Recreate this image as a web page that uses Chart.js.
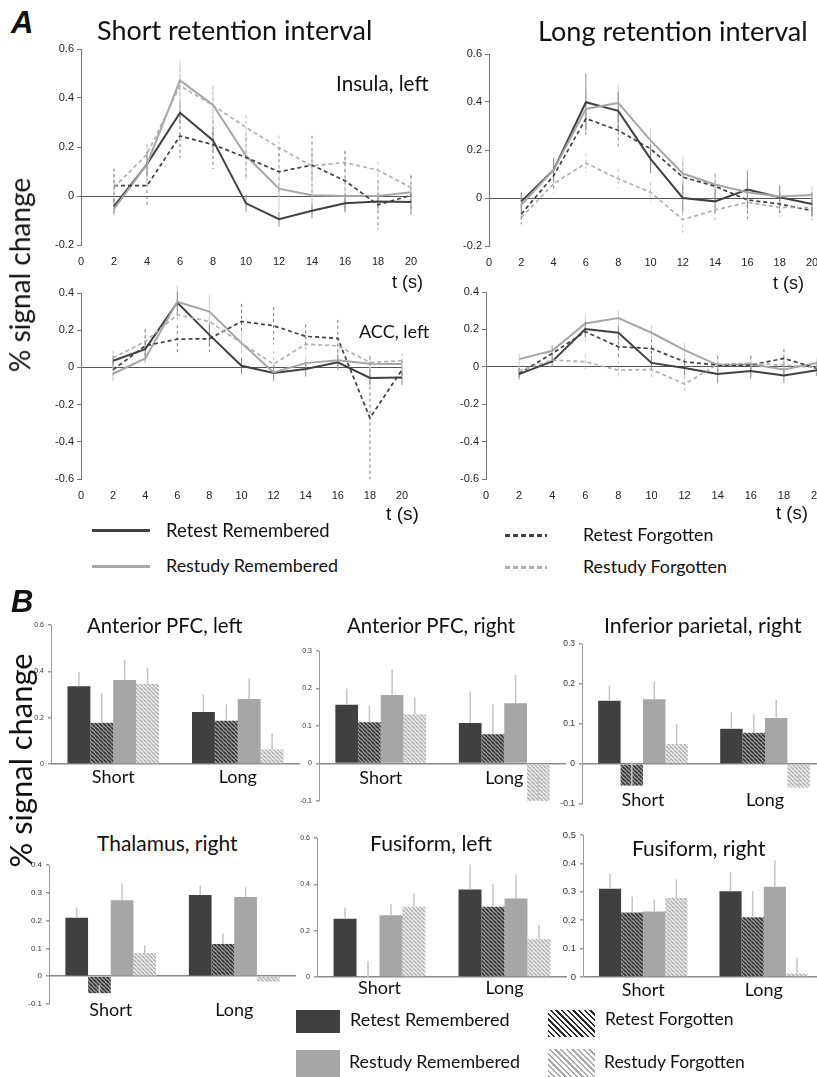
<!DOCTYPE html>
<html><head><meta charset="utf-8">
<script src="https://cdn.jsdelivr.net/npm/chart.js@4.4.1/dist/chart.umd.min.js"></script>
<style>
html,body{margin:0;padding:0;background:#fff;overflow:hidden;}
#root{position:relative;width:817px;height:1077px;overflow:hidden;background:#fff;}
.t{position:absolute;white-space:nowrap;line-height:1;color:#111;}
canvas{position:absolute;}
.sw{position:absolute;}
</style></head><body><div id="root"></div>
<script>
// ---------------- DATA ----------------
const timePoints = [2,4,6,8,10,12,14,16,18,20];
const seriesNames = ['Retest Remembered','Restudy Remembered','Retest Forgotten','Restudy Forgotten'];

// Insula, left — short retention interval
const insulaShortRetestRem   = [-0.042,0.13,0.34,0.227,-0.03,-0.095,-0.06,-0.03,-0.022,-0.024];
const insulaShortRestudyRem  = [-0.053,0.13,0.472,0.372,0.164,0.03,0.003,0.0,0.0,0.015];
const insulaShortRetestForg  = [0.042,0.042,0.245,0.21,0.157,0.099,0.126,0.062,-0.036,0.003];
const insulaShortRestudyForg = [0.035,0.17,0.45,0.37,0.28,0.197,0.123,0.137,0.105,0.035];
const insulaShortErrRR = [0.03,0.05,0.045,0.05,0.035,0.03,0.03,0.035,0.03,0.04];
const insulaShortErrSR = [0.03,0.08,0.08,0.075,0.1,0.09,0.08,0.07,0.06,0.05];
const insulaShortErrRF = [0.07,0.08,0.09,0.1,0.08,0.1,0.12,0.12,0.1,0.08];
const insulaShortErrSF = [0.06,0.04,0.07,0.08,0.05,0.05,0.06,0.05,0.035,0.05];

// Insula, left — long retention interval
const insulaLongRetestRem   = [-0.014,0.117,0.399,0.363,0.163,0.0,-0.014,0.035,0.003,-0.025];
const insulaLongRestudyRem  = [-0.028,0.117,0.371,0.396,0.24,0.102,0.056,0.024,0.006,0.013];
const insulaLongRetestForg  = [-0.067,0.093,0.331,0.282,0.205,0.087,0.049,-0.008,-0.025,-0.053];
const insulaLongRestudyForg = [-0.081,0.059,0.145,0.08,0.024,-0.09,-0.05,-0.018,-0.039,-0.04];
const insulaLongErrRR = [0.04,0.05,0.12,0.08,0.06,0.06,0.05,0.08,0.05,0.05];
const insulaLongErrSR = [0.05,0.05,0.08,0.08,0.05,0.07,0.05,0.04,0.04,0.035];
const insulaLongErrRF = [0.04,0.06,0.07,0.07,0.06,0.06,0.05,0.08,0.05,0.04];
const insulaLongErrSF = [0.03,0.04,0.04,0.04,0.04,0.055,0.045,0.05,0.04,0.04];

// ACC, left — short retention interval
const accShortRetestRem   = [0.036,0.098,0.349,0.175,0.009,-0.03,-0.009,0.027,-0.057,-0.054];
const accShortRestudyRem  = [-0.034,0.048,0.353,0.30,0.131,-0.027,0.023,0.038,0.02,0.018];
const accShortRetestForg  = [-0.013,0.116,0.152,0.154,0.247,0.224,0.167,0.156,-0.272,-0.013];
const accShortRestudyForg = [0.05,0.14,0.283,0.247,0.13,0.018,0.125,0.116,0.027,0.036];
const accShortErrRR = [0.03,0.04,0.06,0.06,0.045,0.04,0.04,0.04,0.04,0.04];
const accShortErrSR = [0.04,0.03,0.09,0.09,0.06,0.05,0.04,0.04,0.03,0.03];
const accShortErrRF = [0.05,0.09,0.075,0.07,0.095,0.1,0.065,0.1,0.33,0.05];
const accShortErrSF = [0.04,0.06,0.05,0.06,0.05,0.07,0.05,0.05,0.04,0.04];

// ACC, left — long retention interval
const accLongRetestRem   = [-0.039,0.029,0.202,0.182,0.021,-0.007,-0.039,-0.023,-0.046,-0.018];
const accLongRestudyRem  = [0.041,0.086,0.232,0.261,0.182,0.089,0.009,0.014,-0.014,0.021];
const accLongRetestForg  = [-0.036,0.071,0.188,0.107,0.098,0.027,0.009,0.009,0.045,-0.009];
const accLongRestudyForg = [-0.021,0.036,0.027,-0.018,-0.014,-0.093,0.014,0.018,0.009,-0.004];
const accLongErrRR = [0.03,0.03,0.04,0.04,0.04,0.04,0.05,0.04,0.04,0.03];
const accLongErrSR = [0.03,0.03,0.045,0.04,0.04,0.04,0.04,0.03,0.03,0.03];
const accLongErrRF = [0.03,0.04,0.05,0.06,0.05,0.05,0.05,0.05,0.05,0.04];
const accLongErrSF = [0.03,0.03,0.04,0.05,0.04,0.045,0.04,0.04,0.04,0.03];

// Bar charts: rows = Retest Remembered, Retest Forgotten, Restudy Remembered, Restudy Forgotten; cols = Short, Long
const barGroups = ['Short','Long'];
const barSeries = ['Retest Remembered','Retest Forgotten','Restudy Remembered','Restudy Forgotten'];
const antPfcLeft     = [[0.336,0.224],[0.178,0.187],[0.363,0.281],[0.346,0.063]];
const antPfcLeftErr  = [[0.06,0.076],[0.129,0.07],[0.088,0.089],[0.069,0.068]];
const antPfcRight    = [[0.157,0.108],[0.110,0.078],[0.183,0.161],[0.131,-0.10]];
const antPfcRightErr = [[0.043,0.085],[0.044,0.08],[0.067,0.075],[0.045,0.064]];
const infParRight    = [[0.158,0.088],[-0.054,0.078],[0.162,0.115],[0.05,-0.059]];
const infParRightErr = [[0.038,0.041],[0.06,0.046],[0.044,0.045],[0.05,0.03]];
const thalRight      = [[0.21,0.292],[-0.061,0.116],[0.273,0.285],[0.083,-0.019]];
const thalRightErr   = [[0.038,0.035],[0.03,0.038],[0.061,0.035],[0.028,0.015]];
const fusLeft        = [[0.251,0.378],[0.0,0.303],[0.267,0.339],[0.303,0.164]];
const fusLeftErr     = [[0.049,0.108],[0.069,0.097],[0.047,0.102],[0.059,0.062]];
const fusRight       = [[0.311,0.302],[0.227,0.21],[0.231,0.318],[0.278,0.012]];
const fusRightErr    = [[0.054,0.068],[0.056,0.092],[0.042,0.092],[0.066,0.057]];

// ---------------- STYLE ----------------
const DARK = '#404040', LIGHT = '#a6a6a6';
const root = document.getElementById('root');

function txt(s, o) {
  const d = document.createElement('div');
  d.className = 't'; d.textContent = s;
  d.style.fontFamily = o.family || 'Lato, "Open Sans", sans-serif';
  d.style.fontSize = o.size + 'px';
  if (o.weight) d.style.fontWeight = o.weight;
  if (o.style) d.style.fontStyle = o.style;
  d.style.color = o.color || '#111';
  d.style.left = '0px'; d.style.top = '0px';
  root.appendChild(d);
  if (o.width) {
    const w = d.offsetWidth;
    d.style.fontSize = (o.size * o.width / w) + 'px';
  }
  const w = d.offsetWidth, h = d.offsetHeight;
  if (o.rotate) {
    d.style.left = (o.xc - w / 2) + 'px';
    d.style.top = (o.yc - h / 2) + 'px';
    d.style.transform = 'rotate(-90deg)';
  } else {
    d.style.left = o.x + 'px';
    d.style.top = (o.yc - h / 2) + 'px';
  }
  return d;
}
function box(x, y, w, h, bg) {
  const d = document.createElement('div');
  d.className = 'sw';
  Object.assign(d.style, {left: x + 'px', top: y + 'px', width: w + 'px', height: h + 'px', background: bg});
  root.appendChild(d);
  return d;
}
function fmt(v) { const r = Math.round(v * 10) / 10; return r === 0 ? '0' : r.toFixed(1); }

const errPlugin = {
  id: 'errbars',
  beforeDatasetsDraw(chart) {
    const ctx = chart.ctx, ys = chart.scales.y;
    chart.data.datasets.forEach((ds, i) => {
      const meta = chart.getDatasetMeta(i);
      ctx.save();
      ctx.strokeStyle = ds.errColor; ctx.lineWidth = ds.errWidth || 1;
      ctx.setLineDash(ds.errDash || []);
      meta.data.forEach((el, j) => {
        const v = ds.vals[j], e = ds.errs[j];
        ctx.beginPath();
        if (ds.oneSided) {
          ctx.moveTo(el.x, ys.getPixelForValue(v));
          ctx.lineTo(el.x, ys.getPixelForValue(v + e));
        } else {
          ctx.moveTo(el.x, ys.getPixelForValue(v + e));
          ctx.lineTo(el.x, ys.getPixelForValue(v - e));
        }
        ctx.stroke();
      });
      ctx.restore();
    });
  }
};
const errAfterPlugin = {
  id: 'errbarsAfter',
  afterDatasetsDraw(chart) {
    if (!chart.config.options.errAfter) return;
    errPlugin.beforeDatasetsDraw(chart);
  }
};

function makeCanvas(left, top, w, h) {
  const c = document.createElement('canvas');
  c.width = w; c.height = h;
  c.style.left = left + 'px'; c.style.top = top + 'px';
  c.style.width = w + 'px'; c.style.height = h + 'px';
  root.appendChild(c);
  return c;
}

const lineColors = [DARK, LIGHT, DARK, '#b0b0b0'];
const errColors = ['#8c8c8c', '#d0d0d0', '#7a7a7a', '#c0c0c0'];

function lineChart(rect, yMin, yMax, series, errors) {
  const padL = 45, padT = 12, padR = 22, xH = 28;
  const w = Math.round(rect.r - rect.l + padL + padR), h = Math.round(rect.b - rect.t + padT + xH);
  const c = makeCanvas(rect.l - padL, rect.t - padT, w, h);
  new Chart(c, {
    type: 'line',
    data: {
      datasets: series.map((s, i) => ({
        label: seriesNames[i],
        data: timePoints.map((t, j) => ({x: t, y: s[j]})),
        vals: s, errs: errors[i],
        borderColor: lineColors[i], borderWidth: i < 2 ? 2 : 1.7,
        borderDash: i < 2 ? [] : [4, 3],
        errColor: errColors[i], errDash: i < 2 ? [] : [3, 3], errWidth: 1,
        pointRadius: 0, fill: false, tension: 0
      })).reverse()
    },
    options: {
      responsive: false, animation: false, devicePixelRatio: 1,
      layout: {padding: {left: 0, top: padT, right: padR, bottom: 0}},
      plugins: {legend: {display: false}, tooltip: {enabled: false}},
      scales: {
        x: {
          type: 'linear', min: 0, max: 20,
          ticks: {stepSize: 2, padding: 10, autoSkip: false, maxRotation: 0, color: '#222',
                  font: {family: 'Liberation Sans', size: 11}},
          grid: {display: false, drawTicks: false}, border: {display: false},
          afterFit(s) { s.height = xH; s.paddingLeft = 0; s.paddingRight = 0; }
        },
        y: {
          min: yMin, max: yMax,
          ticks: {stepSize: 0.2, padding: 3, color: '#222', font: {family: 'Liberation Sans', size: 11},
                  callback: v => fmt(v)},
          grid: {color: ctx => Math.abs(ctx.tick.value) < 1e-9 ? '#555' : 'rgba(0,0,0,0)',
                 tickColor: '#777', tickLength: 4, lineWidth: 1},
          border: {display: true, color: '#777'},
          afterFit(s) { s.width = padL; s.paddingTop = 0; s.paddingBottom = 0; }
        }
      }
    },
    plugins: [errPlugin]
  });
}

function hatch(fg, bg, size, lw) {
  const c = document.createElement('canvas');
  c.width = c.height = size;
  const x = c.getContext('2d');
  x.fillStyle = bg; x.fillRect(0, 0, size, size);
  x.strokeStyle = fg; x.lineWidth = lw;
  for (let k = -1; k <= 1; k++) {
    x.beginPath(); x.moveTo(k * size, 0); x.lineTo(k * size + size, size); x.stroke();
  }
  return x.createPattern(c, 'repeat');
}
const rfPattern = hatch('#333333', '#a8a8a8', 4, 1.6);
const sfPattern = hatch('#b4b4b4', '#f4f4f4', 4, 1.6);
const barFills = [DARK, rfPattern, LIGHT, sfPattern];

const catLabelPlugin = {
  id: 'catLabels',
  afterDraw(chart) {
    const o = chart.config.options.catLabel;
    const ctx = chart.ctx, xs = chart.scales.x, ys = chart.scales.y;
    ctx.save();
    ctx.font = o.size + 'px Lato';
    ctx.fillStyle = '#111'; ctx.textAlign = 'center'; ctx.textBaseline = 'middle';
    barGroups.forEach((g, i) => {
      ctx.fillText(g, xs.getPixelForValue(i), ys.getPixelForValue(0) + o.offset);
    });
    ctx.restore();
  }
};

function barChart(rect, yMin, yMax, step, tickSize, vals, errs, labOffset) {
  const padL = 32, padT = 10, padR = 6, xH = 26;
  const w = Math.round(rect.r - rect.l + padL + padR), h = Math.round(rect.b - rect.t + padT + xH);
  const c = makeCanvas(rect.l - padL, rect.t - padT, w, h);
  new Chart(c, {
    type: 'bar',
    data: {
      labels: barGroups,
      datasets: vals.map((v, i) => ({
        label: barSeries[i], data: v, vals: v, errs: errs[i], oneSided: true,
        backgroundColor: barFills[i], borderWidth: 0,
        barPercentage: 1.0, categoryPercentage: 0.735,
        errColor: '#c4c4c4', errWidth: 1.5
      }))
    },
    options: {
      responsive: false, animation: false, devicePixelRatio: 1, errAfter: true,
      catLabel: {size: 18, offset: labOffset},
      layout: {padding: {left: 0, top: padT, right: padR, bottom: 0}},
      plugins: {legend: {display: false}, tooltip: {enabled: false}},
      scales: {
        x: {
          ticks: {display: false}, grid: {display: false, drawTicks: false}, border: {display: false},
          afterFit(s) { s.height = xH; s.paddingLeft = 0; s.paddingRight = 0; }
        },
        y: {
          min: yMin, max: yMax,
          ticks: {stepSize: step, padding: 4, color: '#333', font: {family: 'Liberation Sans', size: tickSize},
                  callback: v => fmt(v)},
          grid: {color: ctx => Math.abs(ctx.tick.value) < 1e-9 ? '#8a8a8a' : 'rgba(0,0,0,0)',
                 tickColor: '#999', tickLength: 3, lineWidth: 1.5},
          border: {display: true, color: '#9a9a9a'},
          afterFit(s) { s.width = padL; s.paddingTop = 0; s.paddingBottom = 0; }
        }
      }
    },
    plugins: [errAfterPlugin, catLabelPlugin]
  });
}

// ---------------- PANEL A ----------------
lineChart({l: 80.7, t: 49.3, r: 410.7, b: 245}, -0.2, 0.6,
  [insulaShortRetestRem, insulaShortRestudyRem, insulaShortRetestForg, insulaShortRestudyForg],
  [insulaShortErrRR, insulaShortErrSR, insulaShortErrRF, insulaShortErrSF]);
lineChart({l: 489, t: 54, r: 811.7, b: 245.7}, -0.2, 0.6,
  [insulaLongRetestRem, insulaLongRestudyRem, insulaLongRetestForg, insulaLongRestudyForg],
  [insulaLongErrRR, insulaLongErrSR, insulaLongErrRF, insulaLongErrSF]);
lineChart({l: 80.7, t: 293.3, r: 401.7, b: 479.3}, -0.6, 0.4,
  [accShortRetestRem, accShortRestudyRem, accShortRetestForg, accShortRestudyForg],
  [accShortErrRR, accShortErrSR, accShortErrRF, accShortErrSF]);
lineChart({l: 485.5, t: 292, r: 816.7, b: 478.7}, -0.6, 0.4,
  [accLongRetestRem, accLongRestudyRem, accLongRetestForg, accLongRestudyForg],
  [accLongErrRR, accLongErrSR, accLongErrRF, accLongErrSF]);

txt('A', {x: 11, yc: 22, size: 31, family: 'Liberation Sans', weight: 'bold', style: 'italic'});
txt('Short retention interval', {x: 97, yc: 30, size: 25, width: 275});
txt('Long retention interval', {x: 538, yc: 30, size: 25, width: 270});
txt('Insula, left', {x: 336, yc: 83, size: 18, width: 93});
txt('ACC, left', {x: 359, yc: 331, size: 18, width: 70});
txt('t (s)', {x: 392, yc: 282, size: 18, width: 31, family: 'Liberation Sans'});
txt('t (s)', {x: 773, yc: 283, size: 18, width: 31, family: 'Liberation Sans'});
txt('t (s)', {x: 386, yc: 513, size: 18, width: 33, family: 'Liberation Sans'});
txt('t (s)', {x: 776, yc: 513, size: 18, width: 32, family: 'Liberation Sans'});
txt('% signal change', {xc: 19, yc: 275, size: 20, width: 195, rotate: true});

// legend A
box(92, 529, 58, 3, DARK);
box(92, 565, 58, 3, LIGHT);
box(505, 534, 42, 3, 'repeating-linear-gradient(to right,' + DARK + ' 0 5px, transparent 5px 8px)');
box(505, 566, 42, 3, 'repeating-linear-gradient(to right,#b0b0b0 0 5px, transparent 5px 8px)');
txt('Retest Remembered', {x: 166, yc: 530, size: 17, width: 164});
txt('Restudy Remembered', {x: 166, yc: 566, size: 17, width: 172});
txt('Retest Forgotten', {x: 583, yc: 535, size: 17, width: 131});
txt('Restudy Forgotten', {x: 583, yc: 567, size: 17, width: 144});

// ---------------- PANEL B ----------------
barChart({l: 50.7, t: 625.3, r: 300, b: 764.7}, 0, 0.6, 0.2, 7, antPfcLeft, antPfcLeftErr, 13.3);
barChart({l: 318.5, t: 650.7, r: 565.6, b: 801}, -0.1, 0.3, 0.1, 7, antPfcRight, antPfcRightErr, 14.7);
barChart({l: 581.7, t: 644, r: 826, b: 804}, -0.1, 0.3, 0.1, 8.5, infParRight, infParRightErr, 36);
barChart({l: 49, t: 865.3, r: 296, b: 1004.7}, -0.1, 0.4, 0.1, 8, thalRight, thalRightErr, 34);
barChart({l: 316.5, t: 838.3, r: 566.5, b: 977}, 0, 0.6, 0.2, 7, fusLeft, fusLeftErr, 11.3);
barChart({l: 583.4, t: 834.7, r: 824, b: 976.7}, 0, 0.5, 0.1, 9.5, fusRight, fusRightErr, 13.3);

txt('B', {x: 11, yc: 601, size: 31, family: 'Liberation Sans', weight: 'bold', style: 'italic'});
txt('Anterior PFC, left', {x: 87, yc: 625, size: 18, width: 155});
txt('Anterior PFC, right', {x: 347, yc: 625, size: 18, width: 168});
txt('Inferior parietal, right', {x: 604, yc: 625, size: 18, width: 197});
txt('Thalamus, right', {x: 97, yc: 843, size: 18, width: 141});
txt('Fusiform, left', {x: 370, yc: 842, size: 18, width: 122});
txt('Fusiform, right', {x: 632, yc: 848, size: 18, width: 134});
txt('% signal change', {xc: 20, yc: 760, size: 21, width: 215, rotate: true});

// legend B
box(296, 1010, 44, 23, DARK);
box(296, 1050, 44, 27, LIGHT);
box(548, 1010, 47, 27, 'repeating-linear-gradient(45deg,#2a2a2a 0 1.6px,#ffffff 1.6px 4px)');
box(548, 1049, 47, 28, 'repeating-linear-gradient(45deg,#a8a8a8 0 1.6px,#ffffff 1.6px 4px)');
txt('Retest Remembered', {x: 350, yc: 1018.5, size: 17, width: 160});
txt('Restudy Remembered', {x: 349, yc: 1062, size: 17, width: 171});
txt('Retest Forgotten', {x: 605, yc: 1018.5, size: 17, width: 129});
txt('Restudy Forgotten', {x: 604, yc: 1062, size: 17, width: 141});
</script></body></html>
